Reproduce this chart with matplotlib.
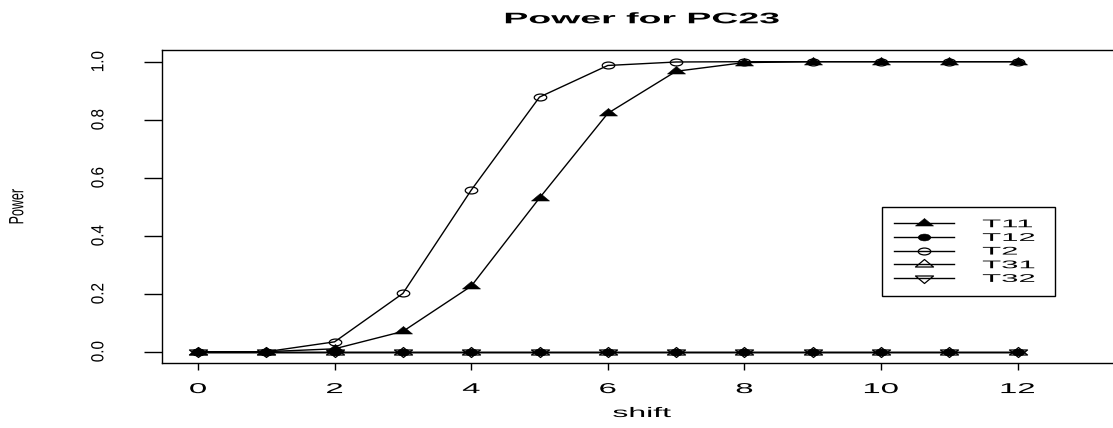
import matplotlib
matplotlib.use("Agg")
import matplotlib.pyplot as plt
from matplotlib.path import Path
from matplotlib.markers import MarkerStyle
from matplotlib.transforms import Affine2D
from matplotlib.patheffects import AbstractPathEffect

# ---- data -------------------------------------------------------------
shift = [0, 1, 2, 3, 4, 5, 6, 7, 8, 9, 10, 11, 12]
power_t11 = [0.0, 0.0, 0.01, 0.07, 0.226, 0.53, 0.822, 0.967, 0.997, 1.0, 1.0, 1.0, 1.0]
power_t12 = [0.0] * 13
power_t2 = [0.0, 0.0, 0.034, 0.201, 0.557, 0.878, 0.987, 0.999, 1.0, 1.0, 1.0, 1.0, 1.0]
power_t31 = [0.0] * 13
power_t32 = [0.0] * 13
series_labels = ["T11", "T12", "T2", "T31", "T32"]
x_ticks = [0, 2, 4, 6, 8, 10, 12]
y_ticks = [0.0, 0.2, 0.4, 0.6, 0.8, 1.0]
y_tick_labels = ["0.0", "0.2", "0.4", "0.6", "0.8", "1.0"]

plt.rcParams["font.family"] = ["Liberation Sans", "DejaVu Sans"]


class Stretch(AbstractPathEffect):
    """Widen rendered glyphs horizontally (in display space)."""

    def __init__(self, sx, anchor="center"):
        super().__init__()
        self.sx = sx
        self.anchor = anchor

    def draw_path(self, renderer, gc, tpath, affine, rgbFace=None):
        ext = tpath.get_extents(affine)
        if self.anchor == "left":
            x0 = ext.x0
        elif self.anchor == "right":
            x0 = ext.x1
        else:
            x0 = 0.5 * (ext.x0 + ext.x1)
        tr = affine + Affine2D().translate(-x0, 0).scale(self.sx, 1.0).translate(x0, 0)
        renderer.draw_path(gc, tpath, tr, rgbFace)


def triangle(up=True, h=0.833):
    s = 1 if up else -1
    verts = [(0, s * 2 * h / 3), (-1, -s * h / 3), (1, -s * h / 3), (0, s * 2 * h / 3)]
    codes = [Path.MOVETO, Path.LINETO, Path.LINETO, Path.CLOSEPOLY]
    return MarkerStyle(Path(verts, codes))


ellipse = MarkerStyle("o", transform=Affine2D().scale(1.0, 0.55))

W, H = 1113, 428
fig = plt.figure(figsize=(W / 100, H / 100), dpi=100)
x_lo, x_hi = -0.52, 13.52
px_per_unit = 68.3
left_px, bottom_px = 198 + x_lo * px_per_unit, 363.3
ax_w_px, ax_h_px = (x_hi - x_lo) * px_per_unit, 313.2
ax = fig.add_axes([left_px / W, 1 - bottom_px / H, ax_w_px / W, ax_h_px / H])

tri_ms = 18 * 72 / 100
circ_ms = 12.5 * 72 / 100
lw = 1.0
ax.plot(shift, power_t11, color="black", lw=lw, marker=triangle(True), ms=tri_ms,
        mfc="black", mec="black", mew=0.4, label=series_labels[0])
ax.plot(shift, power_t12, color="black", lw=lw, marker=ellipse, ms=circ_ms,
        mfc="black", mec="black", mew=0.4, label=series_labels[1])
ax.plot(shift, power_t2, color="black", lw=lw, marker=ellipse, ms=circ_ms,
        mfc="none", mec="black", mew=0.9, label=series_labels[2])
ax.plot(shift, power_t31, color="black", lw=lw, marker=triangle(True), ms=tri_ms,
        mfc="none", mec="black", mew=0.9, label=series_labels[3])
ax.plot(shift, power_t32, color="black", lw=lw, marker=triangle(False), ms=tri_ms,
        mfc="none", mec="black", mew=0.9, label=series_labels[4])

ax.set_xlim(x_lo, x_hi)
ax.set_ylim(-0.04, 1.04)
ax.set_xticks(x_ticks)
ax.set_yticks(y_ticks)
ax.set_yticklabels(y_tick_labels)
for sp in ax.spines.values():
    sp.set_color("black")
    sp.set_linewidth(1.0)

ax.tick_params(axis="x", direction="out", length=5, width=1.0, pad=8.5,
               labelsize=10.3, colors="black")
ax.tick_params(axis="y", direction="out", length=13, width=1.0, pad=28,
               labelsize=11, colors="black")
for t in ax.yaxis.get_major_ticks():
    t.label1.set_rotation(90)
    t.label1.set_va("center")
    t.label1.set_path_effects([Stretch(1.15)])
for t in ax.xaxis.get_major_ticks():
    t.label1.set_path_effects([Stretch(2.3)])

ax.set_xlabel("shift", fontsize=10, va="center")
ax.xaxis.set_label_coords(0.5, (bottom_px - 413) / ax_h_px)
ax.xaxis.label.set_path_effects([Stretch(2.3)])
ax.set_ylabel("Power", fontsize=9, va="center")
ax.yaxis.set_label_coords((17.5 - left_px) / ax_w_px, 0.5)
ax.yaxis.label.set_path_effects([Stretch(1.65)])

title = ax.set_title("Power for PC23", fontsize=11, fontweight="bold",
                     y=1 + (50 - 27.5) / ax_h_px, va="center")
title.set_path_effects([Stretch(2.45)])

leg_w = 173.5 / W
leg_h = 90 / H
leg_top = 207
leg = ax.legend(loc="upper left",
                bbox_to_anchor=(881.5 / W, 1 - leg_top / H - leg_h, leg_w, leg_h),
                bbox_transform=fig.transFigure, mode="expand", borderaxespad=0,
                fontsize=8, handlelength=5.4, handletextpad=2.6, borderpad=1.1,
                labelspacing=0.33, fancybox=False, framealpha=1, edgecolor="black")
leg.get_frame().set_linewidth(1.0)
for t in leg.get_texts():
    t.set_path_effects([Stretch(2.8, anchor="left")])

fig.savefig("out.png", dpi=100, facecolor="white")
